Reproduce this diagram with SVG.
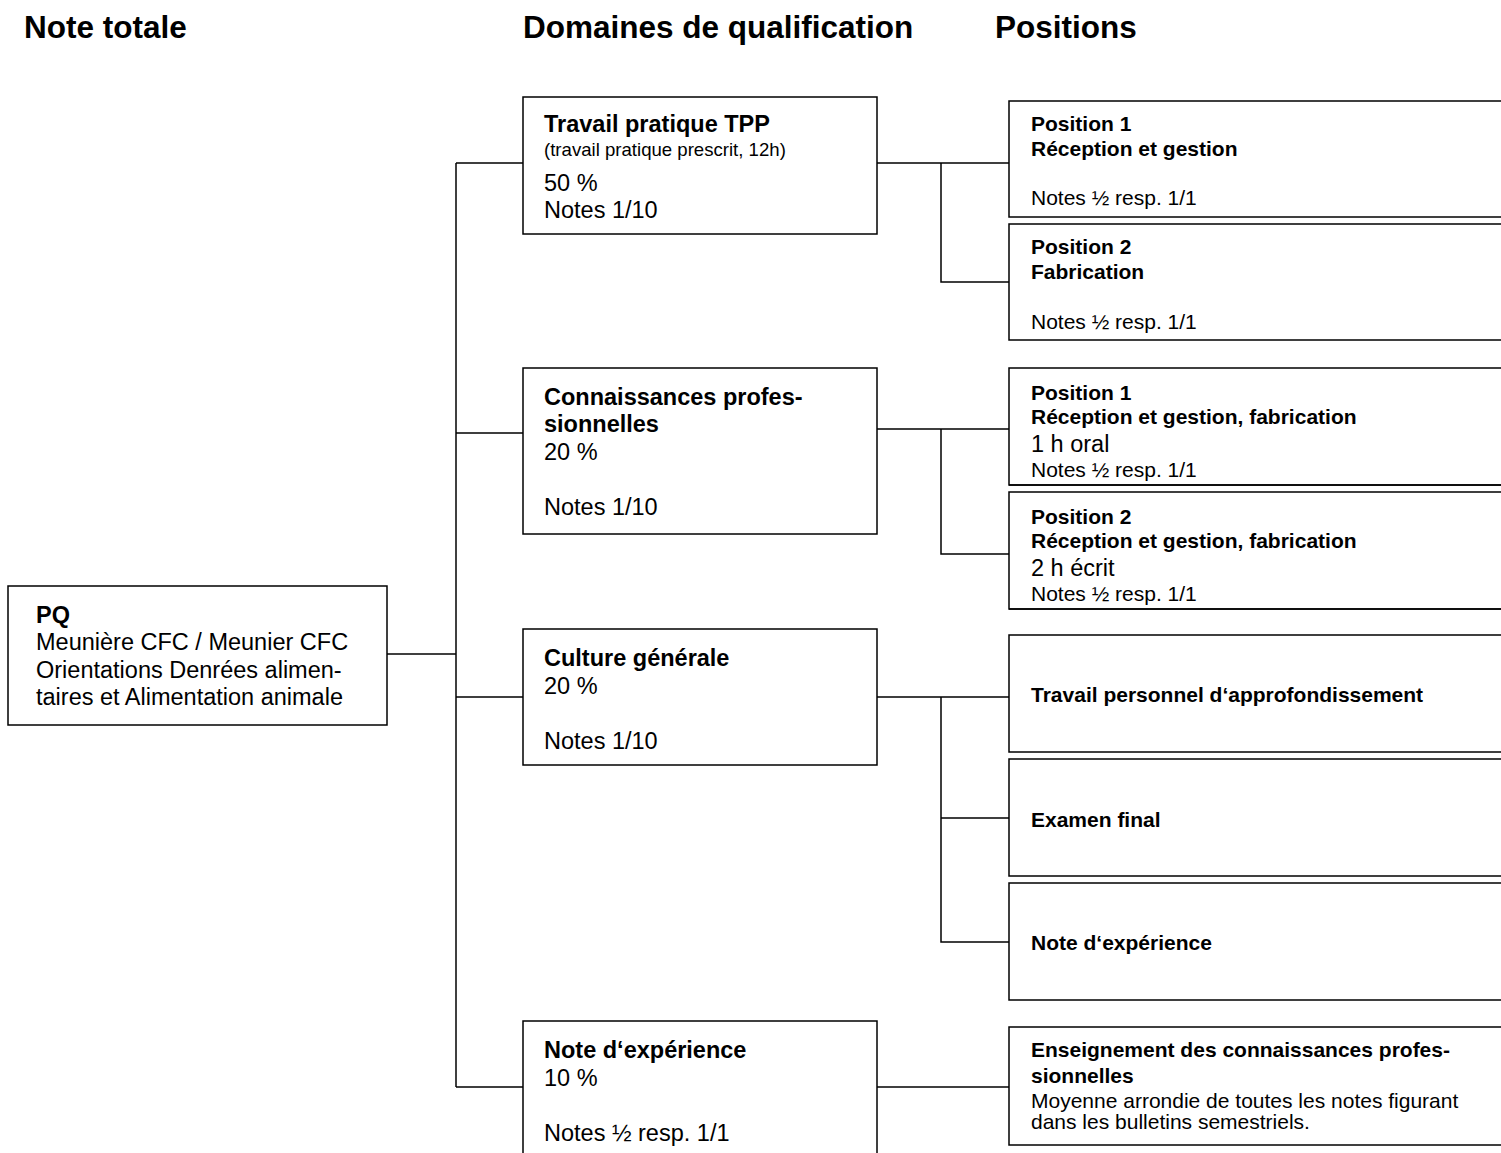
<svg xmlns="http://www.w3.org/2000/svg" width="1501" height="1153" viewBox="0 0 1501 1153">
<style>
  .box { fill: #fff; stroke: #000; stroke-width: 1.5; }
  .con { fill: none; stroke: #000; stroke-width: 1.5; }
  text { font-family: "Liberation Sans", Arial, sans-serif; fill: #000; }
  .h { font-size: 31.5px; font-weight: bold; }
  .dt { font-size: 23.5px; font-weight: bold; }
  .d { font-size: 23.5px; }
  .ds { font-size: 18.6px; }
  .pt { font-size: 21px; font-weight: bold; }
  .p { font-size: 21px; }
</style>
<defs>
  <clipPath id="cp1"><rect x="1009" y="368" width="500" height="117"/></clipPath>
  <clipPath id="cp2"><rect x="1009" y="492" width="500" height="117"/></clipPath>
</defs>
<rect width="1501" height="1153" fill="#fff"/>

<g id="headers">
  <text class="h" x="24" y="37.5">Note totale</text>
  <text class="h" x="523" y="37.5">Domaines de qualification</text>
  <text class="h" x="995" y="37.5">Positions</text>
</g>

<g id="connectors">
  <path class="con" d="M387,654 H456"/>
  <path class="con" d="M456,163 V1087"/>
  <path class="con" d="M456,163 H523 M456,433 H523 M456,697 H523 M456,1087 H523"/>
  <path class="con" d="M877,163 H1009 M941,163 V282 H1009"/>
  <path class="con" d="M877,429 H1009 M941,429 V554 H1009"/>
  <path class="con" d="M877,697 H1009 M941,697 V942 H1009 M941,818 H1009"/>
  <path class="con" d="M877,1087 H1009"/>
</g>

<g id="pq">
  <rect class="box" x="8" y="586" width="379" height="139"/>
  <text class="dt" x="36" y="622.5">PQ</text>
  <text class="d" x="36" y="650">Meunière CFC / Meunier CFC</text>
  <text class="d" x="36" y="677.5">Orientations Denrées alimen-</text>
  <text class="d" x="36" y="705">taires et Alimentation animale</text>
</g>

<g id="tpp">
  <rect class="box" x="523" y="97" width="354" height="137"/>
  <text class="dt" x="544" y="131.5">Travail pratique TPP</text>
  <text class="ds" x="544" y="156">(travail pratique prescrit, 12h)</text>
  <text class="d" x="544" y="190.5">50 %</text>
  <text class="d" x="544" y="217.5">Notes 1/10</text>
</g>

<g id="connaissances">
  <rect class="box" x="523" y="368" width="354" height="166"/>
  <text class="dt" x="544" y="404.5">Connaissances profes-</text>
  <text class="dt" x="544" y="431.5">sionnelles</text>
  <text class="d" x="544" y="459.5">20 %</text>
  <text class="d" x="544" y="514.5">Notes 1/10</text>
</g>

<g id="culture">
  <rect class="box" x="523" y="629" width="354" height="136"/>
  <text class="dt" x="544" y="665.5">Culture générale</text>
  <text class="d" x="544" y="693.5">20 %</text>
  <text class="d" x="544" y="748.5">Notes 1/10</text>
</g>

<g id="note-experience">
  <rect class="box" x="523" y="1021" width="354" height="150"/>
  <text class="dt" x="544" y="1057.5">Note d‘expérience</text>
  <text class="d" x="544" y="1085.5">10 %</text>
  <text class="d" x="544" y="1140.5">Notes ½ resp. 1/1</text>
</g>

<g id="tpp-pos1">
  <rect class="box" x="1009" y="101" width="510" height="116"/>
  <text class="pt" x="1031" y="130.5">Position 1</text>
  <text class="pt" x="1031" y="155.5">Réception et gestion</text>
  <text class="p" x="1031" y="204.5">Notes ½ resp. 1/1</text>
</g>

<g id="tpp-pos2">
  <rect class="box" x="1009" y="224" width="510" height="116"/>
  <text class="pt" x="1031" y="253.5">Position 2</text>
  <text class="pt" x="1031" y="278.5">Fabrication</text>
  <text class="p" x="1031" y="328.5">Notes ½ resp. 1/1</text>
</g>

<g id="cp-pos1">
  <rect class="box" x="1009" y="368" width="510" height="117"/>
  <g clip-path="url(#cp1)">
    <text class="pt" x="1031" y="399.5">Position 1</text>
    <text class="pt" x="1031" y="423.5">Réception et gestion, fabrication</text>
    <text class="d" x="1031" y="451.5">1 h oral</text>
    <text class="p" x="1031" y="477">Notes ½ resp. 1/1</text>
  </g>
  <path class="con" d="M1009,485 H1510"/>
</g>

<g id="cp-pos2">
  <rect class="box" x="1009" y="492" width="510" height="117"/>
  <g clip-path="url(#cp2)">
    <text class="pt" x="1031" y="523.5">Position 2</text>
    <text class="pt" x="1031" y="547.5">Réception et gestion, fabrication</text>
    <text class="d" x="1031" y="575.5">2 h écrit</text>
    <text class="p" x="1031" y="601">Notes ½ resp. 1/1</text>
  </g>
  <path class="con" d="M1009,609 H1510"/>
</g>

<g id="cg-tpa">
  <rect class="box" x="1009" y="635" width="510" height="117"/>
  <text class="pt" x="1031" y="701.5">Travail personnel d‘approfondissement</text>
</g>

<g id="cg-examen">
  <rect class="box" x="1009" y="759" width="510" height="117"/>
  <text class="pt" x="1031" y="826.5">Examen final</text>
</g>

<g id="cg-note">
  <rect class="box" x="1009" y="883" width="510" height="117"/>
  <text class="pt" x="1031" y="949.5">Note d‘expérience</text>
</g>

<g id="enseignement">
  <rect class="box" x="1009" y="1027" width="510" height="118"/>
  <text class="pt" x="1031" y="1056.5">Enseignement des connaissances profes-</text>
  <text class="pt" x="1031" y="1082.5">sionnelles</text>
  <text class="p" x="1031" y="1107.5">Moyenne arrondie de toutes les notes figurant</text>
  <text class="p" x="1031" y="1128.5">dans les bulletins semestriels.</text>
</g>
</svg>
